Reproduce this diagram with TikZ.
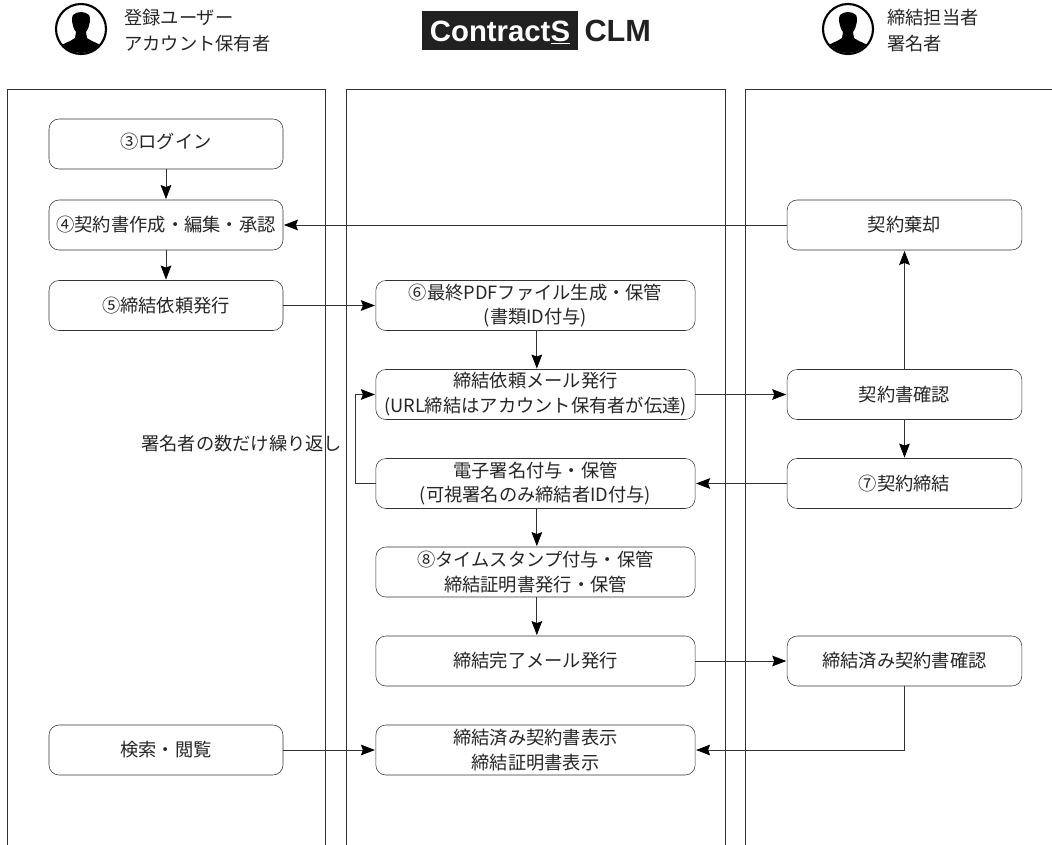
\documentclass[tikz,border=0pt]{standalone}
\usepackage{fontspec}
\setmainfont{Noto Sans CJK JP}
\newfontfamily\logofont{Liberation Sans}
\usetikzlibrary{arrows.meta,positioning}
\definecolor{linegrey}{gray}{0.2}
\definecolor{textgrey}{gray}{0.15}
\definecolor{logoblack}{gray}{0.13}

\begin{document}
\begin{tikzpicture}[x=0.75pt,y=-0.75pt]

\tikzset{flowbox/.style={draw=linegrey,fill=white,rounded corners=7.5pt,text=textgrey,inner sep=0pt,align=center,minimum height=37.5pt,font=\fontsize{13.7}{18.6}\selectfont},
leftbox/.style={flowbox,minimum width=175.5pt},
midbox/.style={flowbox,minimum width=239.5pt},
rightbox/.style={flowbox,minimum width=176pt},
lanetext/.style={anchor=west,align=left,text=textgrey,inner sep=0pt,font=\fontsize{13.7}{19.5}\selectfont},
flow/.style={draw=linegrey,line width=0.6pt,-{Stealth[black,length=10.5pt,width=8pt,inset=1.5pt]},shorten >=0.5pt},
usericon/.pic={
  \draw[line width=1.6pt,black,fill=white] (0,0) circle (25);
  \begin{scope}
    \clip (0,0) circle (24);
    \fill[black] (-24,26) -- (-22,18) .. controls (-18,14) and (-11,13) .. (-6,9) -- (-5,3) .. controls (-9,-2) and (-10,-12) .. (-8,-14) .. controls (-4,-18) and (4,-18) .. (8,-14) .. controls (10,-12) and (9,-2) .. (5,3) -- (6,9) .. controls (11,13) and (18,14) .. (22,18) -- (24,26) -- cycle;
  \end{scope}
}}

\useasboundingbox (0,0) rectangle (1052,845);

% Lanes
\draw[linegrey,line width=0.6pt] (7,845) -- (7,89) -- (325,89) -- (325,845);
\draw[linegrey,line width=0.6pt] (346,845) -- (346,89) -- (725,89) -- (725,845);
\draw[linegrey,line width=0.6pt] (745,845) -- (745,89) -- (1052,89);

% Header
\pic at (81,29) {usericon};
\pic at (848,29) {usericon};
\node[lanetext] (userLabel) at (124,30.5) {登録ユーザー\\アカウント保有者};
\node[lanetext] (signerLabel) at (887,30.5) {締結担当者\\署名者};
\node[fill=logoblack,text=white,inner sep=0pt,minimum width=117pt,minimum height=29pt,font=\logofont\fontsize{22}{22}\selectfont\bfseries] (logo) at (500,30.5) {\raisebox{-1.5pt}[\height][\depth]{Contract\underline{S}}};
\node[right=4.5pt of logo,inner sep=0pt,text=logoblack,font=\logofont\fontsize{23}{23}\selectfont\bfseries] (clm) {CLM};

% Left lane
\node[leftbox] (login) at (166,144) {\raisebox{1.5pt}[\height][\depth]{③ログイン}};
\node[leftbox] (draft) at (166,225) {④契約書作成・編集・承認};
\node[leftbox] (request) at (166,305.5) {⑤締結依頼発行};
\node[leftbox] (search) at (166,750) {検索・閲覧};

% Middle lane
\node[midbox] (pdf) at (535.5,305.5) {⑥最終PDFファイル生成・保管\\(書類ID付与)};
\node[midbox] (mail) at (535.5,394.5) {締結依頼メール発行\\(URL締結はアカウント保有者が伝達)};
\node[midbox] (esign) at (535.5,483.5) {電子署名付与・保管\\(可視署名のみ締結者ID付与)};
\node[midbox] (stamp) at (535.5,572) {⑧タイムスタンプ付与・保管\\締結証明書発行・保管};
\node[midbox] (donemail) at (535.5,661) {締結完了メール発行};
\node[midbox] (show) at (535.5,750) {締結済み契約書表示\\締結証明書表示};

% Right lane
\node[rightbox] (discard) at (904.5,225) {契約棄却};
\node[rightbox] (check) at (904.5,394.5) {契約書確認};
\node[rightbox] (conclude) at (904.5,483.5) {⑦契約締結};
\node[rightbox] (donecheck) at (904.5,661) {締結済み契約書確認};

\node[anchor=east,inner sep=0pt,text=textgrey,font=\fontsize{13.7}{18}\selectfont] (repeat) at (342.5,444) {署名者の数だけ繰り返し};

% Edges
\draw[flow] (login) -- (draft); \draw[flow] (draft) -- (request);
\draw[flow] (request) -- (pdf);
\draw[flow] ([xshift=1pt]pdf.south) -- ([xshift=1pt]mail.north);
\draw[flow] ([xshift=1pt]esign.south) -- ([xshift=1pt]stamp.north);
\draw[flow] ([xshift=1pt]stamp.south) -- ([xshift=1pt]donemail.north);
\draw[flow] (mail) -- (check); \draw[flow] (check) -- (discard);
\draw[flow] (check) -- (conclude); \draw[flow] (conclude) -- (esign);
\draw[flow] (discard) -- (draft); \draw[flow] (donemail) -- (donecheck);
\draw[flow] (search) -- (show);
\draw[flow] (esign.west) -- ++(-20,0) |- (mail.west);
\draw[flow] (donecheck.south) |- (show.east);

\end{tikzpicture}
\end{document}
